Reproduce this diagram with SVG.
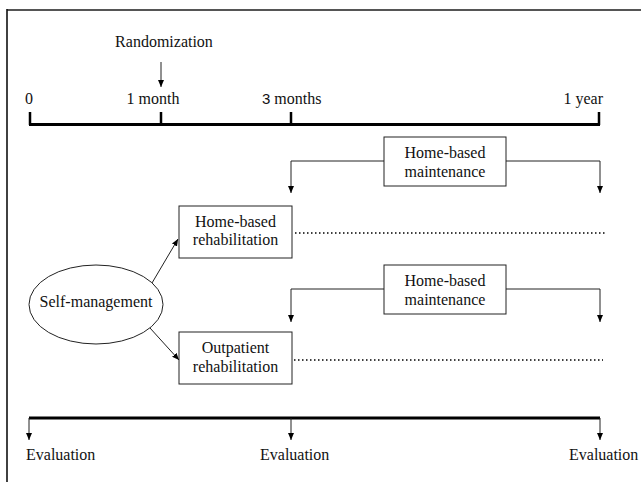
<svg xmlns="http://www.w3.org/2000/svg" width="641" height="482" viewBox="0 0 641 482">
<defs>
<marker id="ah" viewBox="0 0 10 10" refX="10" refY="5" markerWidth="7" markerHeight="6" orient="auto" markerUnits="userSpaceOnUse" preserveAspectRatio="none"><path d="M0,0 L10,5 L0,10 z" fill="#000"/></marker>
<style>
text{font-family:"Liberation Serif","Times New Roman",serif;font-size:16px;fill:#111}
.c{text-anchor:middle}
.box{fill:#fff;stroke:#222;stroke-width:1}
.thin{fill:none;stroke:#222;stroke-width:1}
.thick{fill:none;stroke:#000;stroke-width:3}
.tick{fill:none;stroke:#000;stroke-width:2.5}
.dot{fill:none;stroke:#000;stroke-width:1.5;stroke-dasharray:1.5 2.5}
.arr{fill:none;stroke:#222;stroke-width:1;marker-end:url(#ah)}
</style>
</defs>
<rect width="641" height="482" fill="#fff"/>
<g id="frame">
<line x1="7" y1="10" x2="641" y2="10" stroke="#555" stroke-width="2"/>
<line x1="7" y1="9" x2="7" y2="482" stroke="#111" stroke-width="1.6"/>
</g>
<g id="timeline">
<text x="164" y="47" class="c">Randomization</text>
<text x="25" y="104">0</text>
<text x="153" y="104" class="c">1 month</text>
<text x="262" y="104"><tspan font-family="Liberation Sans, Arial, sans-serif" font-size="15">3</tspan> months</text>
<text x="603" y="104" text-anchor="end">1 year</text>
<path class="thick" d="M29,124.5 H600"/>
<path class="tick" d="M30,112 V125 M161,112 V125 M291,112 V125 M599,112 V125"/>
</g>
<g id="maint1">
<rect class="box" x="384" y="137" width="122" height="49"/>
<text x="445" y="158" class="c">Home-based</text>
<text x="445" y="177" class="c">maintenance</text>
</g>
<g id="maint2">
<rect class="box" x="384" y="265" width="122" height="49"/>
<text x="445" y="286" class="c">Home-based</text>
<text x="445" y="305" class="c">maintenance</text>
</g>
<g id="homerehab">
<rect class="box" x="179" y="206" width="113" height="52"/>
<text x="235.5" y="227" class="c">Home-based</text>
<text x="235.5" y="245" class="c">rehabilitation</text>
</g>
<g id="outrehab">
<rect class="box" x="179" y="332" width="113" height="52"/>
<text x="235.5" y="353" class="c">Outpatient</text>
<text x="235.5" y="372" class="c">rehabilitation</text>
</g>
<g id="selfmgmt">
<ellipse cx="96" cy="304.5" rx="67" ry="39.5" fill="#fff" stroke="#222" stroke-width="1"/>
<text x="96" y="307" class="c">Self-management</text>
</g>
<g id="evaluations">
<text x="26" y="460">Evaluation</text>
<text x="260" y="460">Evaluation</text>
<text x="569" y="460">Evaluation</text>
</g>
<g id="connectors">
<path class="arr" d="M161,62 V87"/>
<path class="thin" d="M384,161 H291"/>
<path class="arr" d="M291,161 V193"/>
<path class="thin" d="M506,161 H600"/>
<path class="arr" d="M600,161 V193"/>
<path class="thin" d="M384,289 H291"/>
<path class="arr" d="M291,289 V322"/>
<path class="thin" d="M506,289 H600"/>
<path class="arr" d="M600,289 V322"/>
<path class="arr" d="M152,283 L178,239"/>
<path class="arr" d="M150,328 L179,360"/>
<path class="dot" d="M295,233 H607"/>
<path class="dot" d="M294,360 H603"/>
<path class="thick" d="M29,418 H600"/>
<path class="arr" d="M29,418 V440"/>
<path class="arr" d="M291,418 V440"/>
<path class="arr" d="M600,418 V440"/>
</g>
</svg>
